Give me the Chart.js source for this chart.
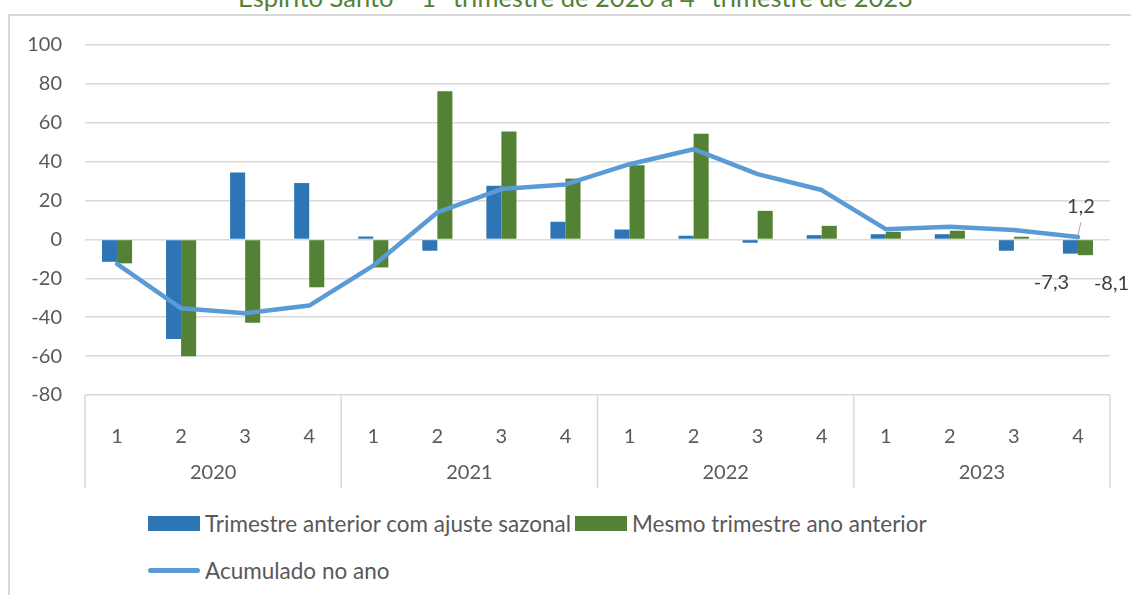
<!DOCTYPE html>
<html>
<head>
<meta charset="utf-8">
<script src="https://cdn.jsdelivr.net/npm/chart.js@4"></script>
<style>
  body { margin: 0; background: #fff; font-family: Lato, sans-serif; }
  #wrap { position: relative; width: 1131px; height: 595px; overflow: hidden; }
  #title { position: absolute; left: 10px; width: 1131px; top: -18px; line-height: 30px; text-align: center; color: #538135; font-size: 25.5px; white-space: nowrap; }
  #frame { position: absolute; left: 8px; top: 14px; width: 1200px; height: 700px; border-left: 2px solid #d9d9d9; border-top: 2px solid #d9d9d9; }
  #box { position: absolute; left: 10px; top: 10px; width: 1121px; height: 478px; }
  .row { position: absolute; left: 148px; display: flex; align-items: center; color: #595959; font-size: 22.5px; white-space: nowrap; }
  .sw { display: inline-block; width: 52px; margin-right: 5px; }
  .item { display: flex; align-items: center; margin-right: 4px; }
</style>
</head>
<body>
<div id="wrap">
  <div id="title">Espírito Santo – 1º trimestre de 2020 a 4º trimestre de 2023</div>
  <div id="frame"></div>
  <div id="box"><canvas id="myChart"></canvas></div>
  <div class="row" id="row1" style="top:509px;height:28px"></div>
  <div class="row" id="row2" style="top:556px;height:28px"></div>
</div>
<script>
const quarters = ['1','2','3','4','1','2','3','4','1','2','3','4','1','2','3','4'];
const years = ['2020','2021','2022','2023'];
const yTicks = [100, 80, 60, 40, 20, 0, -20, -40, -60, -80];

const trimestreAnterior = [-11.5, -51.2, 34.4, 29.0, 1.5, -5.8, 27.6, 9.1, 5.1, 1.9, -1.7, 2.2, 2.7, 2.7, -5.8, -7.3];
const mesmoTrimestre = [-12.3, -60.1, -42.9, -24.6, -14.4, 76.2, 55.5, 31.3, 38.2, 54.4, 14.7, 7.0, 3.9, 4.5, 1.4, -8.1];
const acumulado = [-12.6, -35.4, -38.0, -34.0, -13.5, 13.9, 25.9, 28.3, 38.7, 46.4, 33.6, 25.4, 5.3, 6.5, 4.8, 1.2];

const blue = '#2e75b6';
const green = '#548235';
const lineBlue = '#5b9bd5';
const grey = '#595959';
const gridGrey = '#d9d9d9';

const fmt = v => v.toFixed(1).replace('.', ',');

// year boxes under the quarter labels
const yearGroups = {
  id: 'yearGroups',
  afterDraw(chart) {
    const x = chart.scales.x;
    const ctx = chart.ctx;
    const half = (x.getPixelForValue(1) - x.getPixelForValue(0)) / 2;
    const top = x.top, bottom = x.top + 93;
    ctx.save();
    ctx.strokeStyle = gridGrey;
    ctx.lineWidth = 1.5;
    for (let i = 0; i <= years.length; i++) {
      const px = i < years.length ? x.getPixelForValue(i * 4) - half : x.getPixelForValue(i * 4 - 1) + half;
      ctx.beginPath();
      ctx.moveTo(px, top);
      ctx.lineTo(px, bottom);
      ctx.stroke();
    }
    ctx.fillStyle = grey;
    ctx.font = '20px Lato';
    ctx.textAlign = 'center';
    ctx.textBaseline = 'middle';
    years.forEach((y, i) => {
      const cx = (x.getPixelForValue(i * 4 + 1) + x.getPixelForValue(i * 4 + 2)) / 2;
      ctx.fillText(y, cx, top + 78);
    });
    ctx.restore();
  }
};

// labels of the last quarter
const valueLabels = {
  id: 'valueLabels',
  afterDatasetsDraw(chart) {
    const ctx = chart.ctx;
    const last = quarters.length - 1;
    const b1 = chart.getDatasetMeta(0).data[last];
    const b2 = chart.getDatasetMeta(1).data[last];
    const p = chart.getDatasetMeta(2).data[last];
    ctx.save();
    ctx.fillStyle = '#404040';
    ctx.font = '20px Lato';
    ctx.textAlign = 'center';
    ctx.textBaseline = 'middle';
    ctx.fillText(fmt(acumulado[last]), p.x + 3, p.y - 31);
    ctx.strokeStyle = '#a6a6a6';
    ctx.lineWidth = 1;
    ctx.beginPath();
    ctx.moveTo(p.x, p.y - 2);
    ctx.lineTo(p.x + 3, p.y - 15);
    ctx.stroke();
    ctx.fillText(fmt(trimestreAnterior[last]), b1.x - 19, b1.y + 29);
    ctx.fillText(fmt(mesmoTrimestre[last]), b2.x + 26, b2.y + 28);
    ctx.restore();
  }
};

const ctx = document.getElementById('myChart');

const chart = new Chart(ctx, {
  type: 'bar',
  data: {
    labels: quarters,
    datasets: [
      {
        label: 'Trimestre anterior com ajuste sazonal',
        data: trimestreAnterior,
        backgroundColor: blue,
        borderWidth: 0,
        categoryPercentage: 0.47,
        barPercentage: 1,
        order: 1
      },
      {
        label: 'Mesmo trimestre ano anterior',
        data: mesmoTrimestre,
        backgroundColor: green,
        borderWidth: 0,
        categoryPercentage: 0.47,
        barPercentage: 1,
        order: 1
      },
      {
        type: 'line',
        label: 'Acumulado no ano',
        data: acumulado,
        borderColor: lineBlue,
        backgroundColor: lineBlue,
        borderWidth: 4.5,
        pointRadius: 0,
        tension: 0,
        borderCapStyle: 'round',
        borderJoinStyle: 'round',
        order: 0
      }
    ]
  },
  options: {
    responsive: true,
    maintainAspectRatio: false,
    animation: false,
    layout: { padding: { left: 0, right: 21, top: 20, bottom: 0 } },
    plugins: {
      legend: { display: false },
      tooltip: { enabled: false },
      title: { display: false }
    },
    scales: {
      x: {
        grid: { display: false },
        border: { display: false },
        ticks: { color: grey, font: { family: 'Lato', size: 20 }, padding: 22, maxRotation: 0 },
        afterFit(scale) { scale.height = 93; }
      },
      y: {
        min: -80,
        max: 100,
        afterBuildTicks(scale) { scale.ticks = yTicks.map(v => ({ value: v })); },
        grid: { color: gridGrey, lineWidth: 1.5, drawTicks: false },
        border: { display: false },
        ticks: { color: grey, font: { family: 'Lato', size: 20 }, padding: 23 },
        afterFit(scale) { scale.width = 75; }
      }
    }
  },
  plugins: [yearGroups, valueLabels]
});

// legend like the original, two rows
function legendItem(ds) {
  const item = document.createElement('span');
  item.className = 'item';
  const sw = document.createElement('span');
  sw.className = 'sw';
  if (ds.type === 'line') {
    sw.style.height = '5px';
    sw.style.borderRadius = '3px';
    sw.style.background = ds.borderColor;
  } else {
    sw.style.height = '15px';
    sw.style.background = ds.backgroundColor;
  }
  item.appendChild(sw);
  item.appendChild(document.createTextNode(ds.label));
  return item;
}
const ds = chart.data.datasets;
document.getElementById('row1').appendChild(legendItem(ds[0]));
document.getElementById('row1').appendChild(legendItem(ds[1]));
document.getElementById('row2').appendChild(legendItem(ds[2]));
</script>
</body>
</html>
